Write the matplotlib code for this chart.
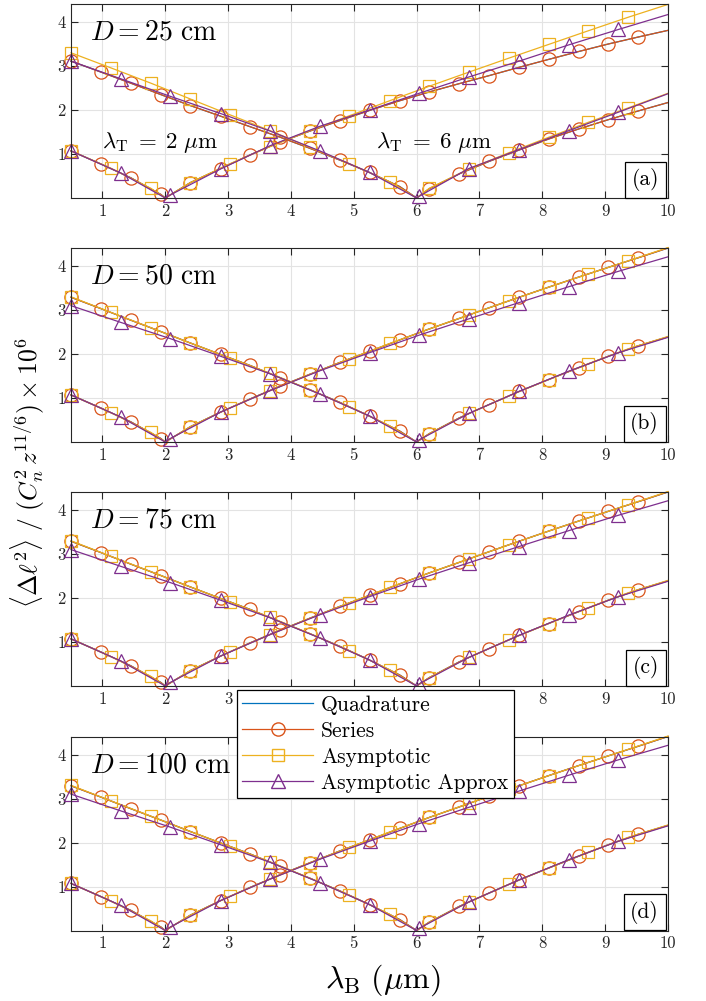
import numpy as np
import matplotlib
matplotlib.use('Agg')
import matplotlib.pyplot as plt
from matplotlib.lines import Line2D

plt.rcParams.update({
    'font.family': 'serif',
    'font.serif': ['cmr10', 'DejaVu Serif'],
    'mathtext.fontset': 'cm',
    'axes.formatter.use_mathtext': True,
    'axes.unicode_minus': False,
})

# marker abscissae (um), last entry is the line end at 10 um
x_circ = [0.50, 0.98, 1.45, 1.93, 2.40, 2.88, 3.35, 3.83, 4.30, 4.78, 5.25,
          5.73, 6.20, 6.68, 7.15, 7.63, 8.10, 8.58, 9.05, 9.53, 10.0]
x_sq = [0.50, 1.13, 1.77, 2.40, 3.03, 3.67, 4.30, 4.93, 5.57, 6.20, 6.83,
        7.47, 8.10, 8.73, 9.37, 10.0]
x_tri = [0.50, 1.29, 2.08, 2.88, 3.67, 4.46, 5.25, 6.04, 6.83, 7.63, 8.42,
         9.21, 10.0]

lam_T = [2, 6]
D_cm = [25, 50, 75, 100]
panel_tags = ['(a)', '(b)', '(c)', '(d)']

# D = 25 cm
series_25_t2 = [1.07, 0.77, 0.46, 0.08, 0.35, 0.67, 0.98, 1.27, 1.52, 1.76, 1.99,
                2.21, 2.41, 2.60, 2.78, 2.97, 3.15, 3.33, 3.50, 3.66, 3.81]
series_25_t6 = [3.11, 2.86, 2.61, 2.35, 2.10, 1.86, 1.62, 1.38, 1.13, 0.86, 0.58,
                0.26, 0.21, 0.55, 0.83, 1.09, 1.34, 1.57, 1.78, 1.98, 2.17]
asym_25_t2 = [1.07, 0.68, 0.22, 0.35, 0.78, 1.17, 1.53, 1.87, 2.21, 2.54, 2.86,
              3.18, 3.49, 3.80, 4.11, 4.40]
asym_25_t6 = [3.30, 2.96, 2.61, 2.25, 1.89, 1.53, 1.15, 0.78, 0.37, 0.22, 0.66,
              1.03, 1.38, 1.72, 2.05, 2.38]
approx_25_t2 = [1.07, 0.57, 0.07, 0.66, 1.19, 1.63, 2.00, 2.38, 2.75, 3.11, 3.48,
                3.83, 4.17]
approx_25_t6 = [3.11, 2.71, 2.31, 1.92, 1.52, 1.07, 0.58, 0.04, 0.67, 1.10, 1.53,
                1.95, 2.37]

# D = 50, 75, 100 cm read the same
series_far_t2 = [1.07, 0.77, 0.46, 0.08, 0.35, 0.68, 0.98, 1.27, 1.54, 1.81, 2.06,
                 2.32, 2.57, 2.81, 3.05, 3.29, 3.52, 3.75, 3.97, 4.19, 4.41]
series_far_t6 = [3.29, 3.03, 2.77, 2.51, 2.25, 1.99, 1.74, 1.46, 1.19, 0.90, 0.59,
                 0.25, 0.19, 0.55, 0.85, 1.15, 1.42, 1.69, 1.95, 2.19, 2.39]
asym_far_t2 = [1.07, 0.67, 0.22, 0.35, 0.78, 1.17, 1.54, 1.89, 2.24, 2.57, 2.89,
               3.21, 3.52, 3.82, 4.12, 4.42]
asym_far_t6 = [3.30, 2.95, 2.60, 2.25, 1.91, 1.56, 1.19, 0.80, 0.37, 0.19, 0.65,
               1.05, 1.42, 1.78, 2.12, 2.40]
approx_far_t2 = [1.07, 0.57, 0.08, 0.68, 1.17, 1.62, 2.03, 2.43, 2.80, 3.17, 3.53,
                 3.88, 4.21]
approx_far_t6 = [3.10, 2.72, 2.35, 1.95, 1.55, 1.09, 0.59, 0.05, 0.65, 1.15, 1.61,
                 2.03, 2.38]

data = {
    25: [(series_25_t2, asym_25_t2, approx_25_t2), (series_25_t6, asym_25_t6, approx_25_t6)],
    50: [(series_far_t2, asym_far_t2, approx_far_t2), (series_far_t6, asym_far_t6, approx_far_t6)],
    75: [(series_far_t2, asym_far_t2, approx_far_t2), (series_far_t6, asym_far_t6, approx_far_t6)],
    100: [(series_far_t2, asym_far_t2, approx_far_t2), (series_far_t6, asym_far_t6, approx_far_t6)],
}

c_quad = '#0072BD'
c_ser = '#D95319'
c_asy = '#EDB120'
c_apx = '#7E2F8E'
axcol = '#262626'


def curve(xs, ys, lam):
    # every curve touches zero at lambda_T; markers sit on the sampled points only
    x = np.array(xs, float)
    y = np.array(ys, float)
    k = np.searchsorted(x, lam)
    x = np.insert(x, k, lam)
    y = np.insert(y, k, 0.0)
    marks = [i for i in range(len(x) - 1) if i != k]
    return x, y, marks


fig = plt.figure(figsize=(7.06, 10.01), dpi=100)
bottoms = [0.8022, 0.5584, 0.3147, 0.0704]

for p, D in enumerate(D_cm):
    ax = fig.add_axes([0.1006, bottoms[p], 0.8456, 0.1934])
    ax.set_xlim(0.5, 10)
    ax.set_ylim(0, 4.4)
    ax.set_xticks(range(1, 11))
    xl = [str(i) for i in range(1, 11)]
    if p == 2:
        # these sit under the legend box in the original
        xl = [s if s in ('1', '2', '3', '8', '9', '10') else '' for s in xl]
    ax.set_xticklabels(xl)
    ax.set_yticks([1, 2, 3, 4])
    ax.set_yticklabels(['1', '2', '3', '4'])
    ax.grid(True, color='#e3e3e3', lw=0.8)
    ax.set_axisbelow(True)
    ax.tick_params(direction='in', top=True, right=True, length=5, width=0.8,
                   colors=axcol, labelsize=12, pad=4)
    for s in ax.spines.values():
        s.set_color(axcol)
        s.set_linewidth(0.8)

    for lam, (ser, asy, apx) in zip(lam_T, data[D]):
        x, y, m = curve(x_circ, ser, lam)
        # quadrature lies underneath the series curve
        ax.plot(x, y, color=c_quad, lw=0.9, clip_on=False)
        ax.plot(x, y, color=c_ser, lw=0.9, marker='o', ms=9.5, mfc='none',
                mec=c_ser, mew=0.9, markevery=m, clip_on=False)
        x, y, m = curve(x_sq, asy, lam)
        ax.plot(x, y, color=c_asy, lw=0.9, marker='s', ms=8.5, mfc='none',
                mec=c_asy, mew=0.9, markevery=m, clip_on=False)
        x, y, m = curve(x_tri, apx, lam)
        ax.plot(x, y, color=c_apx, lw=0.9, marker='^', ms=9.5, mfc='none',
                mec=c_apx, mew=0.9, markevery=m, clip_on=False)

    ax.text(0.032, 0.855, r'$D = %d\ \mathrm{cm}$' % D, transform=ax.transAxes,
            fontsize=20, ha='left', va='center')
    ax.text(0.985, 0.035, panel_tags[p], transform=ax.transAxes, fontsize=15.5,
            ha='right', va='bottom',
            bbox=dict(boxstyle='square,pad=0.3', fc='white', ec='black', lw=0.9))
    if p == 0:
        ax.text(1.0, 1.14, r'$\lambda_{\mathrm{T}}\;=\;2\ \mu\mathrm{m}$', fontsize=16.5,
                ha='left', va='baseline')
        ax.text(5.35, 1.14, r'$\lambda_{\mathrm{T}}\;=\;6\ \mu\mathrm{m}$', fontsize=16.5,
                ha='left', va='baseline')

handles = [
    Line2D([], [], color=c_quad, lw=0.9),
    Line2D([], [], color=c_ser, lw=0.9, marker='o', ms=9.5, mfc='none', mec=c_ser),
    Line2D([], [], color=c_asy, lw=0.9, marker='s', ms=8.5, mfc='none', mec=c_asy),
    Line2D([], [], color=c_apx, lw=0.9, marker='^', ms=9.5, mfc='none', mec=c_apx),
]
labels = ['Quadrature', 'Series', 'Asymptotic', 'Asymptotic Approx']
leg = fig.legend(handles, labels, loc='upper left', bbox_to_anchor=(237 / 706, 1 - 690 / 1001),
                 fontsize=15.5, frameon=True, fancybox=False, framealpha=1,
                 edgecolor='black', handlelength=3.3, handletextpad=0.35,
                 labelspacing=0.3, borderpad=0.25, borderaxespad=0)
leg.get_frame().set_linewidth(0.9)

fig.text(0.04, 0.528, r'$\langle \Delta \ell^2 \rangle\ /\ (C_n^2\, z^{11/6}) \times 10^6$',
         rotation=90, ha='center', va='center', fontsize=18.5)
fig.text(0.542, 0.021, r'$\lambda_{\mathrm{B}}\ (\mu\mathrm{m})$', ha='center',
         va='center', fontsize=23)

fig.savefig('out.png', dpi=100)
